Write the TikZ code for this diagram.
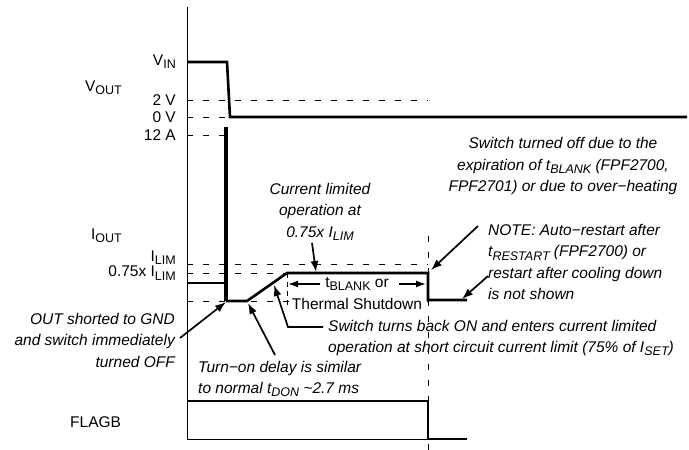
\documentclass[tikz,border=0pt]{standalone}
\usepackage{fontspec}
\setmainfont{Liberation Sans}
\usetikzlibrary{arrows.meta}
\newcommand{\sbs}[1]{\raisebox{-0.4ex}{\fontsize{12.5}{12.5}\selectfont #1}}
\begin{document}
\begin{tikzpicture}[x=1pt,y=-1pt,
  sig/.style={line width=2.6pt},
  axisline/.style={line width=1pt},
  dsh/.style={line width=0.9pt, dash pattern=on 6pt off 10pt},
  lbl/.style={font=\fontsize{15.5}{20}\selectfont, inner sep=0pt},
  ann/.style={font=\fontsize{15.5}{21.5}\selectfont\itshape, inner sep=0pt},
  arr/.style={line width=1.7pt, -{Latex[length=11pt,width=8pt]}}]
\useasboundingbox (0,0) rectangle (689,450);

% axis
\coordinate (axtop) at (187,7);
\coordinate (axbot) at (187,439);
\draw[axisline] (axtop) -- (axbot);

% dashed reference lines
\coordinate (d2a) at (187,100);  \coordinate (d2b) at (428,100);
\coordinate (d0a) at (187,117);  \coordinate (d0b) at (227,117);
\coordinate (d12a) at (187,135); \coordinate (d12b) at (225,135);
\coordinate (dla) at (187,264);  \coordinate (dlb) at (428,264);
\coordinate (d75a) at (187,273); \coordinate (d75b) at (428,273);
\coordinate (dza) at (187,301);  \coordinate (dzb) at (428,301);
\draw[dsh] (d2a) -- (d2b);
\draw[dsh] (d0a) -- (d0b);
\draw[dsh] (d12a) -- (d12b);
\draw[dsh] (dla) -- (dlb);
\draw[dsh] (d75a) -- (d75b);
\draw[dsh] (dza) -- (dzb);
\coordinate (tka) at (287,273); \coordinate (tkb) at (287,307);
\draw[dsh, dash pattern=on 5pt off 4pt] (tka) -- (tkb);
\coordinate (vda) at (428,236); \coordinate (vdb) at (428,450);
\draw[dsh] (vda) -- (vdb);

% labels on axis
\node[lbl, anchor=east] (lvin) at (176,62) {V\sbs{IN}};
\node[lbl, anchor=east] (lvout) at (122,88) {V\sbs{OUT}};
\node[lbl, anchor=east] (l2v) at (176,100) {2 V};
\node[lbl, anchor=east] (l0v) at (176,117) {0 V};
\node[lbl, anchor=east] (l12a) at (176,135) {12 A};
\node[lbl, anchor=east] (liout) at (122,236) {I\sbs{OUT}};
\node[lbl, anchor=east] (lilim) at (176,258) {I\sbs{LIM}};
\node[lbl, anchor=east] (l75) at (176,273) {0.75x I\sbs{LIM}};
\node[lbl, anchor=west] (lflag) at (70,422) {FLAGB};

% VOUT signal
\coordinate (v1) at (187,62);
\coordinate (v2) at (227,62);
\coordinate (v3) at (230,117);
\coordinate (v4) at (687,117);
\draw[sig, line join=miter] (v1) -- (v2) -- (v3) -- (v4);

% IOUT signal
\coordinate (i0) at (187,283);
\coordinate (i1) at (227,283);
\coordinate (isp) at (226,127);
\coordinate (ib) at (226,301);
\coordinate (i2) at (247,301);
\coordinate (i3) at (287,273);
\coordinate (i4) at (428,273);
\coordinate (i5) at (428,300);
\coordinate (i6) at (467,300);
\draw[sig] (i0) -- (i1);
\draw[line width=3.2pt] (isp) -- (ib);
\draw[sig, line join=miter] (ib) -- (i2) -- (i3) -- (i4) -- (i5) -- (i6);

% FLAGB
\coordinate (f1) at (187,401);
\coordinate (f2) at (428,401);
\coordinate (f3) at (428,439);
\coordinate (f4) at (467,439);
\draw[sig, line width=2pt, line join=miter] (f1) -- (f2) -- (f3) -- (f4);
\draw[axisline] (axbot) -- (f3);

% tBLANK
\node[lbl] (tbl) at (357,284) {t\sbs{BLANK} or};
\node[lbl, fill=white, inner sep=1pt] (tsh) at (357,304) {Thermal Shutdown};
\coordinate (tbl1) at (288,284);
\coordinate (tbl2) at (426,284);
\draw[line width=1.6pt, -{Latex[length=10pt,width=7pt]}] (tbl.west) ++(-5,0) -- (tbl1);
\draw[line width=1.6pt, -{Latex[length=10pt,width=7pt]}] (tbl.east) ++(10,0) -- (tbl2);

% annotations
\node[ann, align=center] (acur) at (320,212) {Current limited\\operation at\\0.75x I\sbs{LIM}};
\coordinate (acurt) at (316,272);
\draw[arr] (acur.south) ++(-8,2) -- (acurt);

\node[ann, align=center] (aoff) at (563,166) {Switch turned off due to the\\expiration of t\sbs{BLANK} (FPF2700,\\FPF2701) or due to over−heating};
\coordinate (aoffs) at (478,226);
\coordinate (aofft) at (431,270);
\draw[arr] (aoffs) -- (aofft);

\node[ann, align=left, anchor=west] (anote) at (488,262) {NOTE: Auto−restart after\\t\sbs{RESTART} (FPF2700) or\\restart after cooling down\\is not shown};
\coordinate (anotes) at (488,276);
\coordinate (anotet) at (462,299);
\draw[arr] (anotes) -- (anotet);

\node[ann, align=left, anchor=west] (aback) at (328,338) {Switch turns back ON and enters current limited\\operation at short circuit current limit (75\% of I\sbs{SET})};
\coordinate (abk1) at (323,327);
\coordinate (abk2) at (288,327);
\coordinate (abkt) at (274,285);
\draw[arr] (abk1) -- (abk2) -- (abkt);

\node[ann, align=right, anchor=east] (ashort) at (175,340) {OUT shorted to GND\\and switch immediately\\turned OFF};
\coordinate (ashs) at (180,338);
\coordinate (asht) at (226,302);
\draw[arr] (ashs) -- (asht);

\node[ann, align=left, anchor=west] (aton) at (198,379) {Turn−on delay is similar\\to normal t\sbs{DON} \textasciitilde2.7 ms};
\coordinate (atons) at (275,355);
\coordinate (atont) at (248,303);
\draw[arr] (atons) -- (atont);
\end{tikzpicture}
\end{document}
